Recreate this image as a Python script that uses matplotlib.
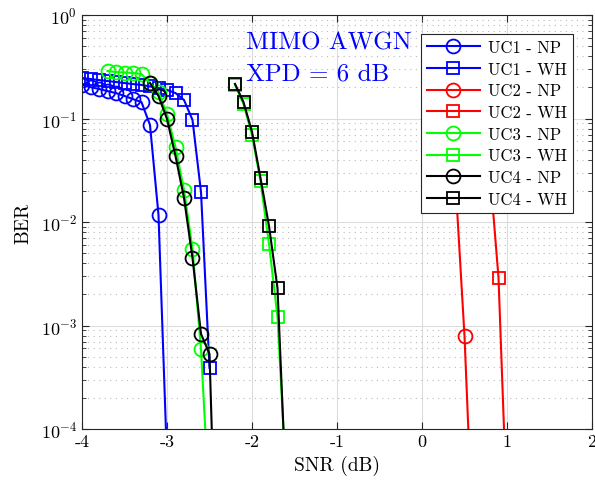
import matplotlib
matplotlib.use('Agg')
import matplotlib.pyplot as plt
import numpy as np

plt.rcParams['font.family'] = ['cmr10', 'DejaVu Serif']
plt.rcParams['mathtext.fontset'] = 'cm'
plt.rcParams['axes.formatter.use_mathtext'] = True

# datos (SNR en dB, BER)
snr_uc1_np = [-4.0, -3.9, -3.8, -3.7, -3.6, -3.5, -3.4, -3.3, -3.2, -3.1, -3.0]
ber_uc1_np = [0.211, 0.201, 0.193, 0.184, 0.176, 0.165, 0.154, 0.144, 0.0865, 0.0117, 5e-5]

snr_uc1_wh = [-4.0, -3.9, -3.8, -3.7, -3.6, -3.5, -3.4, -3.3, -3.2, -3.1, -3.0, -2.9, -2.8, -2.7, -2.6, -2.5]
ber_uc1_wh = [0.246, 0.241, 0.235, 0.230, 0.225, 0.220, 0.215, 0.211, 0.204, 0.197, 0.189, 0.176, 0.151, 0.0968, 0.0195, 3.9e-4]

snr_uc2_np = [0.1, 0.2, 0.3, 0.4, 0.5, 0.6]
ber_uc2_np = [0.22, 0.15, 0.07, 0.02, 7.9e-4, 8e-6]

snr_uc2_wh = [0.4, 0.5, 0.6, 0.7, 0.8, 0.9, 1.0]
ber_uc2_wh = [0.25, 0.22, 0.17, 0.1, 0.03, 0.0029, 1.6e-5]

snr_uc3_np = [-3.7, -3.6, -3.5, -3.4, -3.3, -3.2, -3.1, -3.0, -2.9, -2.8, -2.7, -2.6, -2.5]
ber_uc3_np = [0.288, 0.281, 0.278, 0.275, 0.269, 0.220, 0.180, 0.110, 0.0527, 0.0204, 0.0055, 5.9e-4, 1.7e-5]

snr_uc3_wh = [-2.2, -2.1, -2.0, -1.9, -1.8, -1.7, -1.6]
ber_uc3_wh = [0.211, 0.138, 0.0693, 0.0249, 0.00613, 0.00121, 3.4e-5]

snr_uc4_np = [-3.2, -3.1, -3.0, -2.9, -2.8, -2.7, -2.6, -2.5, -2.4]
ber_uc4_np = [0.220, 0.165, 0.099, 0.0434, 0.0171, 0.00449, 8.3e-4, 5.3e-4, 1e-6]

snr_uc4_wh = [-2.2, -2.1, -2.0, -1.9, -1.8, -1.7, -1.6]
ber_uc4_wh = [0.216, 0.144, 0.0745, 0.0266, 0.00915, 0.0023, 2.6e-5]

curvas = [
    (snr_uc1_np, ber_uc1_np, 'b', 'o', 'UC1 - NP'),
    (snr_uc1_wh, ber_uc1_wh, 'b', 's', 'UC1 - WH'),
    (snr_uc2_np, ber_uc2_np, 'r', 'o', 'UC2 - NP'),
    (snr_uc2_wh, ber_uc2_wh, 'r', 's', 'UC2 - WH'),
    (snr_uc3_np, ber_uc3_np, '#00ff00', 'o', 'UC3 - NP'),
    (snr_uc3_wh, ber_uc3_wh, '#00ff00', 's', 'UC3 - WH'),
    (snr_uc4_np, ber_uc4_np, 'k', 'o', 'UC4 - NP'),
    (snr_uc4_wh, ber_uc4_wh, 'k', 's', 'UC4 - WH'),
]

fig = plt.figure(figsize=(5.95, 4.85), dpi=100)
ax = fig.add_axes([82/595, 1 - 430/485, 510/595, 414/485])

for x, y, c, m, lab in curvas:
    ms = 10 if m == 'o' else 8.5
    ax.semilogy(x, y, color=c, marker=m, mfc='none', mec=c, ms=ms, mew=1.3,
                lw=1.5, label=lab)

ax.set_xlim(-4, 2)
ax.set_ylim(1e-4, 1)
ax.set_xticks([-4, -3, -2, -1, 0, 1, 2])
ax.set_xticklabels(['-4', '-3', '-2', '-1', '0', '1', '2'])

ax.grid(True, which='major', color='#dcdcdc', lw=0.8)
ax.grid(True, which='minor', axis='y', color='#bbbbbb', ls=(0, (1, 4)), lw=0.8)
ax.tick_params(which='both', direction='in', top=True, right=True, labelsize=13,
               color='#262626')
ax.tick_params(which='major', length=5)
ax.tick_params(which='minor', length=3)
ax.tick_params(axis='x', which='minor', top=False, bottom=False)
for s in ax.spines.values():
    s.set_color('#262626')
    s.set_linewidth(0.8)

ax.set_xlabel('SNR (dB)', fontsize=14, labelpad=4)
ax.set_ylabel('BER', fontsize=14, labelpad=6)

ax.text(-2.07, 0.47, 'MIMO AWGN', color='b', fontsize=18, va='baseline')
ax.text(-2.07, 0.24, 'XPD = 6 dB', color='b', fontsize=18, va='baseline')

leg = ax.legend(loc='upper right', bbox_to_anchor=(0.963, 0.954), borderaxespad=0,
                fontsize=12, fancybox=False, framealpha=1, edgecolor='#262626',
                handlelength=3.2, labelspacing=0.38, borderpad=0.35, handletextpad=0.5)
leg.get_frame().set_linewidth(0.8)

fig.savefig('out.png', dpi=100)
